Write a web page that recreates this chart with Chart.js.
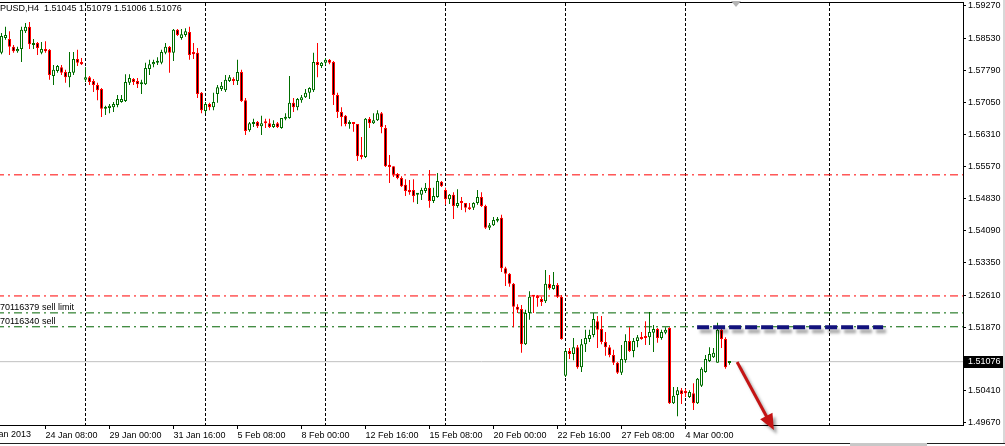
<!DOCTYPE html>
<html>
<head>
<meta charset="utf-8">
<title>GBPUSD H4</title>
<script src="https://cdn.jsdelivr.net/npm/chart.js@4.4.1/dist/chart.umd.min.js"></script>
<style>
  html, body { margin: 0; padding: 0; background: #fff; overflow: hidden; }
  canvas { display: block; }
</style>
</head>
<body>
<canvas id="chart" width="1005" height="446"></canvas>
<script>
// H4 candles, oldest first (bar index 0 = left edge)
const opens = [
  1.5819, 1.5853, 1.5851, 1.5833, 1.5823, 1.5828, 1.5869, 1.5879, 1.5837, 1.5842,
  1.5819, 1.5828, 1.5826, 1.5766, 1.5777, 1.5786, 1.5775, 1.5763, 1.5773, 1.5805,
  1.5798, 1.5757, 1.5763, 1.5754, 1.5745, 1.5736, 1.5690, 1.5692, 1.5694, 1.5699,
  1.5706, 1.5708, 1.5750, 1.5759, 1.5754, 1.5747, 1.5747, 1.5782, 1.5793, 1.5796,
  1.5796, 1.5819, 1.5833, 1.5819, 1.5872, 1.5853, 1.5860, 1.5867, 1.5821, 1.5819,
  1.5727, 1.5685, 1.5701, 1.5694, 1.5724, 1.5736, 1.5733, 1.5754, 1.5759, 1.5754,
  1.5775, 1.5710, 1.5641, 1.5655, 1.5660, 1.5650, 1.5660, 1.5657, 1.5648, 1.5657,
  1.5646, 1.5667, 1.5669, 1.5704, 1.5694, 1.5710, 1.5717, 1.5727, 1.5733, 1.5798,
  1.5789, 1.5796, 1.5803, 1.5798, 1.5722, 1.5683, 1.5674, 1.5655, 1.5657, 1.5655,
  1.5584, 1.5579, 1.5667, 1.5657, 1.5664, 1.5680, 1.5646, 1.5561, 1.5558, 1.5540,
  1.5531, 1.5515, 1.5503, 1.5503, 1.5492, 1.5492, 1.5501, 1.5508, 1.5478, 1.5487,
  1.5522, 1.5503, 1.5482, 1.5492, 1.5466, 1.5475, 1.5473, 1.5462, 1.5462, 1.5473,
  1.5487, 1.5466, 1.5416, 1.5422, 1.5432, 1.5439, 1.5323, 1.5310, 1.5287, 1.5234,
  1.5229, 1.5148, 1.5220, 1.5259, 1.5257, 1.5252, 1.5247, 1.5287, 1.5275, 1.5284,
  1.5257, 1.5075, 1.5132, 1.5125, 1.5141, 1.5095, 1.5148, 1.5160, 1.5169, 1.5201,
  1.5183, 1.5153, 1.5141, 1.5123, 1.5105, 1.5082, 1.5111, 1.5155, 1.5132, 1.5155,
  1.5164, 1.5164, 1.5164, 1.5174, 1.5183, 1.5162, 1.5174, 1.5185, 1.5012, 1.5031,
  1.5042, 1.5040, 1.5026, 1.5035, 1.5012, 1.5052, 1.5084, 1.5109, 1.5118, 1.5105,
  1.5181, 1.5160, 1.51045
];
const highs = [
  1.5865, 1.5879, 1.5869, 1.5837, 1.5833, 1.5879, 1.5888, 1.5890, 1.5851, 1.5844,
  1.5844, 1.5846, 1.5828, 1.5791, 1.5791, 1.5791, 1.5780, 1.5821, 1.5821, 1.5826,
  1.5807, 1.5786, 1.5766, 1.5759, 1.5750, 1.5738, 1.5697, 1.5701, 1.5706, 1.5722,
  1.5722, 1.5770, 1.5770, 1.5761, 1.5761, 1.5757, 1.5796, 1.5803, 1.5803, 1.5809,
  1.5826, 1.5842, 1.5835, 1.5874, 1.5874, 1.5874, 1.5876, 1.5879, 1.5842, 1.5830,
  1.5729, 1.5706, 1.5704, 1.5727, 1.5745, 1.5752, 1.5768, 1.5768, 1.5763, 1.5803,
  1.5780, 1.5715, 1.5660, 1.5667, 1.5662, 1.5674, 1.5667, 1.5667, 1.5664, 1.5660,
  1.5669, 1.5680, 1.5766, 1.5715, 1.5715, 1.5722, 1.5736, 1.5740, 1.5819, 1.5842,
  1.5798, 1.5807, 1.5805, 1.5800, 1.5727, 1.5694, 1.5676, 1.5664, 1.5657, 1.5655,
  1.5625, 1.5669, 1.5671, 1.5680, 1.5687, 1.5683, 1.5653, 1.5584, 1.5558, 1.5542,
  1.5535, 1.5528, 1.5526, 1.5528, 1.5496, 1.5508, 1.5519, 1.5549, 1.5508, 1.5542,
  1.5524, 1.5508, 1.5494, 1.5498, 1.5505, 1.5487, 1.5473, 1.5473, 1.5475, 1.5503,
  1.5498, 1.5469, 1.5427, 1.5441, 1.5441, 1.5446, 1.5326, 1.5312, 1.5289, 1.5240,
  1.5238, 1.5227, 1.5270, 1.5261, 1.5261, 1.5257, 1.5319, 1.5307, 1.5314, 1.5289,
  1.5261, 1.5137, 1.5139, 1.5162, 1.5146, 1.5160, 1.5181, 1.5181, 1.5220, 1.5213,
  1.5213, 1.5176, 1.5146, 1.5135, 1.5107, 1.5146, 1.5171, 1.5187, 1.5162, 1.5169,
  1.5176, 1.5201, 1.5222, 1.5192, 1.5185, 1.5181, 1.5187, 1.5187, 1.5049, 1.5049,
  1.5047, 1.5045, 1.5042, 1.5058, 1.5070, 1.5095, 1.5123, 1.5141, 1.5139, 1.5197,
  1.5185, 1.5164, 1.51079
];
const lows = [
  1.5816, 1.5849, 1.5814, 1.5819, 1.5819, 1.5798, 1.5865, 1.5828, 1.5828, 1.5814,
  1.5816, 1.5819, 1.5757, 1.5745, 1.5773, 1.5768, 1.5750, 1.5740, 1.5768, 1.5789,
  1.5791, 1.5752, 1.5745, 1.5729, 1.5710, 1.5671, 1.5676, 1.5680, 1.5683, 1.5694,
  1.5704, 1.5706, 1.5745, 1.5745, 1.5738, 1.5724, 1.5745, 1.5768, 1.5786, 1.5791,
  1.5793, 1.5816, 1.5773, 1.5800, 1.5858, 1.5849, 1.5856, 1.5803, 1.5805, 1.5715,
  1.5680, 1.5680, 1.5687, 1.5687, 1.5704, 1.5731, 1.5729, 1.5752, 1.5745, 1.5745,
  1.5706, 1.5630, 1.5637, 1.5648, 1.5646, 1.5630, 1.5646, 1.5646, 1.5646, 1.5646,
  1.5644, 1.5664, 1.5667, 1.5683, 1.5687, 1.5704, 1.5715, 1.5713, 1.5729, 1.5763,
  1.5784, 1.5791, 1.5793, 1.5699, 1.5669, 1.5650, 1.5650, 1.5644, 1.5637, 1.5570,
  1.5574, 1.5577, 1.5646, 1.5655, 1.5662, 1.5634, 1.5556, 1.5519, 1.5533, 1.5528,
  1.5510, 1.5489, 1.5492, 1.5475, 1.5471, 1.5480, 1.5496, 1.5462, 1.5473, 1.5485,
  1.5510, 1.5469, 1.5471, 1.5436, 1.5462, 1.5457, 1.5452, 1.5457, 1.5457, 1.5469,
  1.5464, 1.5413, 1.5411, 1.5420, 1.5429, 1.5314, 1.5282, 1.5280, 1.5187, 1.5220,
  1.5128, 1.5146, 1.5204, 1.5220, 1.5234, 1.5236, 1.5243, 1.5273, 1.5273, 1.5254,
  1.5158, 1.5072, 1.5114, 1.5111, 1.5091, 1.5084, 1.5130, 1.5153, 1.5164, 1.5139,
  1.5148, 1.5121, 1.5118, 1.5100, 1.5079, 1.5077, 1.5105, 1.5130, 1.5118, 1.5141,
  1.5158, 1.5146, 1.5146, 1.5130, 1.5151, 1.5158, 1.5171, 1.5010, 1.5010, 1.4982,
  1.5010, 1.5026, 1.5024, 1.4996, 1.5010, 1.5049, 1.5082, 1.5107, 1.5116, 1.5105,
  1.5139, 1.5091, 1.51006
];
const closes = [
  1.5858, 1.5860, 1.5833, 1.5823, 1.5828, 1.5872, 1.5879, 1.5839, 1.5842, 1.5830,
  1.5828, 1.5823, 1.5768, 1.5780, 1.5789, 1.5773, 1.5763, 1.5775, 1.5805, 1.5796,
  1.5793, 1.5763, 1.5752, 1.5745, 1.5733, 1.5690, 1.5694, 1.5697, 1.5701, 1.5713,
  1.5713, 1.5752, 1.5761, 1.5752, 1.5747, 1.5750, 1.5784, 1.5793, 1.5798, 1.5798,
  1.5821, 1.5833, 1.5819, 1.5872, 1.5860, 1.5862, 1.5869, 1.5814, 1.5816, 1.5724,
  1.5687, 1.5701, 1.5694, 1.5706, 1.5740, 1.5743, 1.5757, 1.5763, 1.5754, 1.5775,
  1.5708, 1.5639, 1.5657, 1.5660, 1.5650, 1.5657, 1.5657, 1.5648, 1.5655, 1.5648,
  1.5669, 1.5669, 1.5704, 1.5694, 1.5713, 1.5717, 1.5727, 1.5738, 1.5798, 1.5791,
  1.5796, 1.5803, 1.5796, 1.5722, 1.5683, 1.5671, 1.5655, 1.5657, 1.5655, 1.5581,
  1.5579, 1.5667, 1.5657, 1.5664, 1.5680, 1.5648, 1.5558, 1.5556, 1.5538, 1.5531,
  1.5512, 1.5501, 1.5498, 1.5489, 1.5494, 1.5503, 1.5508, 1.5478, 1.5489, 1.5524,
  1.5512, 1.5482, 1.5492, 1.5466, 1.5473, 1.5473, 1.5462, 1.5459, 1.5473, 1.5487,
  1.5466, 1.5416, 1.5422, 1.5434, 1.5436, 1.5323, 1.5310, 1.5287, 1.5234, 1.5227,
  1.5148, 1.5220, 1.5257, 1.5257, 1.5254, 1.5245, 1.5287, 1.5277, 1.5284, 1.5257,
  1.5160, 1.5132, 1.5125, 1.5141, 1.5095, 1.5148, 1.5162, 1.5169, 1.5206, 1.5181,
  1.5153, 1.5141, 1.5123, 1.5105, 1.5082, 1.5114, 1.5155, 1.5132, 1.5155, 1.5164,
  1.5160, 1.5162, 1.5176, 1.5183, 1.5162, 1.5176, 1.5181, 1.5012, 1.5029, 1.5042,
  1.5033, 1.5035, 1.5038, 1.5012, 1.5068, 1.5091, 1.5114, 1.5125, 1.5128, 1.5181,
  1.5160, 1.5095, 1.51076
];

const symbol = "PUSD,H4";
const dateTicks = [11, 27, 43, 59, 75, 91, 107, 123, 139, 155, 171];
const dateLabels = ["24 Jan 08:00", "29 Jan 00:00", "31 Jan 16:00", "5 Feb 08:00", "8 Feb 00:00",
  "12 Feb 16:00", "15 Feb 08:00", "20 Feb 00:00", "22 Feb 16:00", "27 Feb 08:00", "4 Mar 00:00"];
const firstDateBar = -5;
const firstDateLabel = "22 Jan 2013";
const gridBars = [21, 51, 81, 111, 141, 171, 207];
const priceTicks = [1.5927, 1.5853, 1.5779, 1.5705, 1.5631, 1.5557, 1.5483,
  1.5409, 1.5335, 1.5261, 1.5187, 1.5041, 1.4967];

// order lines
const stopLevels = [1.5538, 1.5259];
const orderLevels = [1.5220, 1.5188];
const orderNames = ["70116379 sell limit", "70116340 sell"];

// hand-drawn objects
const trendBars = [173.9, 220.4];
const trendPrice = 1.5187;
const arrowBars = [183.9, 193.1];
const arrowPrices = [1.5107, 1.4950];

const GREEN = "#006e00";
const LINE_GREEN = "#006400";
const RED = "#ff0000";
const FONT = '"Liberation Sans", Arial, sans-serif';
const xMin = -0.375, xMax = 240.375;
const yMin = 1.49617, yMax = 1.59362;
const PLOT = { left: 0, top: 2, right: 963, bottom: 425 };

Chart.defaults.font.family = FONT;
Chart.defaults.font.size = 9;
Chart.defaults.color = "#000";

const bars = opens.map((_, i) => i);
const isUp = bars.map(i => closes[i] >= opens[i]);
const last = closes.length - 1;

function hline(price, color, dash, order) {
  return {
    type: "line",
    data: [{ x: xMin - 1, y: price }, { x: xMax + 1, y: price }],
    borderColor: color, borderWidth: 1, borderDash: dash,
    pointRadius: 0, order
  };
}

// pin the plot area to the terminal's layout
const pinLayout = {
  id: "pinLayout",
  afterLayout(chart) {
    const A = PLOT, W = chart.width, H = chart.height;
    Object.assign(chart.chartArea, A, { width: A.right - A.left, height: A.bottom - A.top });
    const { x, x2, y } = chart.scales;
    Object.assign(x, { left: A.left, right: A.right, width: A.right - A.left, top: A.bottom, bottom: H, height: H - A.bottom });
    Object.assign(x2, { left: A.left, right: A.right, width: A.right - A.left, top: 0, bottom: A.top, height: A.top });
    Object.assign(y, { left: A.right, right: W, width: W - A.right, top: A.top, bottom: A.bottom, height: A.bottom - A.top });
    [x, x2, y].forEach(s => s.configure());
  }
};

const decor = {
  id: "decor",
  beforeDatasetDraw(chart, args) {
    const ds = chart.data.datasets[args.index];
    if (!ds.shadow) return;
    const c = chart.ctx;
    c.save();
    c.shadowColor = ds.shadow;
    c.shadowBlur = 3;
    c.shadowOffsetX = 3;
    c.shadowOffsetY = 4;
  },
  afterDatasetDraw(chart, args) {
    const ds = chart.data.datasets[args.index];
    const c = chart.ctx;
    if (ds.arrow) {
      const [a, b] = args.meta.data;
      const dx = b.x - a.x, dy = b.y - a.y, len = Math.hypot(dx, dy);
      const ux = dx / len, uy = dy / len, head = 16, half = 7;
      c.strokeStyle = ds.arrow;
      c.fillStyle = ds.arrow;
      c.lineWidth = 3;
      c.beginPath();
      c.moveTo(a.x, a.y);
      c.lineTo(b.x - ux * (head - 2), b.y - uy * (head - 2));
      c.stroke();
      c.beginPath();
      c.moveTo(b.x, b.y);
      c.lineTo(b.x - ux * head - uy * half, b.y - uy * head + ux * half);
      c.lineTo(b.x - ux * head + uy * half, b.y - uy * head - ux * half);
      c.closePath();
      c.fill();
    }
    if (ds.shadow) c.restore();
  },
  afterDraw(chart) {
    const c = chart.ctx, xs = chart.scales.x, ys = chart.scales.y, area = chart.chartArea;
    c.save();
    c.font = "9px " + FONT;
    c.fillStyle = "#000";
    c.textAlign = "left";

    // header
    c.textBaseline = "middle";
    const vals = [opens[last], highs[last], lows[last], closes[last]].map(v => v.toFixed(5));
    c.fillText(symbol + "  " + vals.join(" "), 0, 9);

    // order labels
    c.textBaseline = "bottom";
    orderLevels.forEach((p, i) => c.fillText(orderNames[i], 0, ys.getPixelForValue(p) - 1));

    // first date label, cut by the left edge
    c.textBaseline = "top";
    c.fillText(firstDateLabel, xs.getPixelForValue(firstDateBar), area.bottom + 5);

    // current price box
    const py = ys.getPixelForValue(closes[last]);
    c.fillStyle = "#000";
    c.fillRect(area.right + 1, Math.round(py) - 6, 40, 12);
    c.fillStyle = "#fff";
    c.textBaseline = "middle";
    c.fillText(closes[last].toFixed(5), area.right + 5, py);

    // shift marker
    c.fillStyle = "#b4b4b4";
    c.beginPath();
    c.moveTo(731, 1); c.lineTo(741, 1); c.lineTo(736, 7);
    c.closePath(); c.fill();

    // window frame
    c.fillStyle = "#202020";
    c.fillRect(0, 443, chart.width, 1);
    c.fillStyle = "#c8c8c8";
    c.fillRect(850, 443, 77, 3);
    c.fillStyle = "#d8d8d8";
    c.fillRect(chart.width - 2, 0, 2, 443);
    c.restore();
  }
};

new Chart(document.getElementById("chart"), {
  type: "bar",
  data: {
    datasets: [
      {
        label: "wick",
        data: bars.map(i => ({ x: i, y: [lows[i], highs[i]] })),
        backgroundColor: bars.map(i => isUp[i] ? GREEN : RED),
        barThickness: 1, grouped: false, inflateAmount: 0, order: 3
      },
      {
        label: "body",
        data: bars.map(i => ({ x: i, y: [opens[i], closes[i]] })),
        backgroundColor: bars.map(i => isUp[i] ? "#fff" : "#000"),
        borderColor: bars.map(i => isUp[i] ? GREEN : RED),
        borderWidth: 1, borderSkipped: false, barThickness: 3, minBarLength: 2,
        grouped: false, inflateAmount: 0, order: 2
      },
      hline(closes[last], "#c0c0c0", [], 6),
      ...stopLevels.map(p => hline(p, RED, [8, 4, 2, 4], 5)),
      ...orderLevels.map(p => hline(p, LINE_GREEN, [8, 4, 2, 4], 5)),
      {
        type: "line",
        data: trendBars.map(b => ({ x: b, y: trendPrice })),
        borderColor: "#12127c", borderWidth: 4, borderDash: [12, 4], borderCapStyle: "butt",
        pointRadius: 0, order: 1, shadow: "rgba(0,0,0,0.35)"
      },
      {
        type: "line",
        data: arrowBars.map((b, i) => ({ x: b, y: arrowPrices[i] })),
        showLine: false, pointRadius: 0, clip: false, order: 0,
        arrow: "#c41414", shadow: "rgba(0,0,0,0.35)"
      }
    ]
  },
  options: {
    responsive: false,
    animation: false,
    devicePixelRatio: 1,
    events: [],
    layout: { padding: 0, autoPadding: false },
    plugins: { legend: { display: false }, tooltip: { enabled: false } },
    scales: {
      x: {
        type: "linear", position: "bottom", min: xMin, max: xMax, offset: false,
        afterBuildTicks: s => { s.ticks = dateTicks.map(v => ({ value: v })); },
        afterFit: s => { s.height = 21; s.paddingLeft = 0; s.paddingRight = 0; },
        grid: { drawOnChartArea: false, color: "#000", tickLength: 4, offset: false },
        border: { color: "#000" },
        ticks: {
          align: "start", padding: 1, autoSkip: false, maxRotation: 0,
          callback: v => dateLabels[dateTicks.indexOf(v)] ?? ""
        }
      },
      x2: {
        type: "linear", position: "top", min: xMin, max: xMax, offset: false,
        afterBuildTicks: s => { s.ticks = gridBars.map(v => ({ value: v })); },
        afterFit: s => { s.height = 2; s.paddingLeft = 0; s.paddingRight = 0; },
        grid: { color: "#000", drawTicks: false, offset: false },
        border: { color: "#000", dash: [3, 2] },
        ticks: { display: false }
      },
      y: {
        type: "linear", position: "right", min: yMin, max: yMax,
        afterBuildTicks: s => { s.ticks = priceTicks.map(v => ({ value: v })); },
        afterFit: s => { s.width = 42; s.paddingTop = 0; s.paddingBottom = 0; },
        grid: { drawOnChartArea: false, color: "#000", tickLength: 3 },
        border: { color: "#000" },
        ticks: { padding: 2, callback: v => v.toFixed(5) }
      }
    }
  },
  plugins: [pinLayout, decor]
});
</script>
</body>
</html>
